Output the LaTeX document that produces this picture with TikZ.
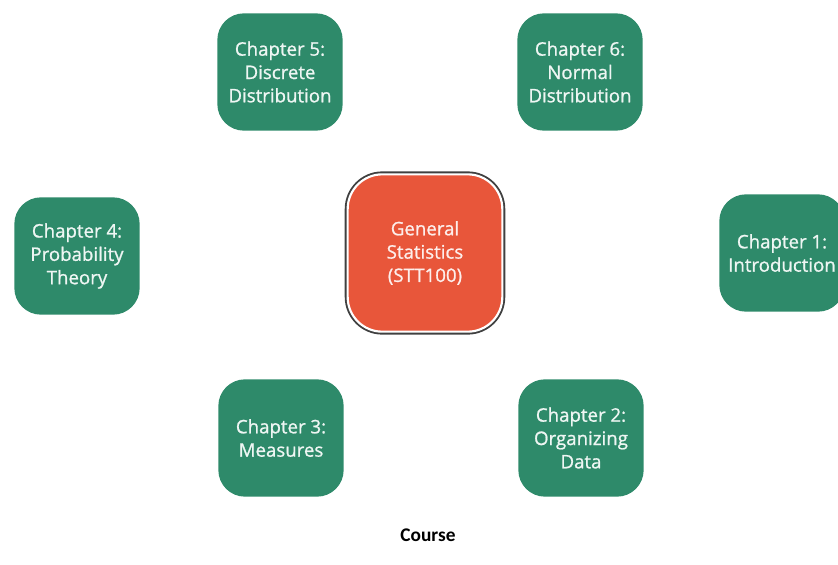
\documentclass[tikz,border=0pt]{standalone}
\usepackage{fontspec}
\setmainfont{Open Sans}
\newfontfamily\boxfont[FakeBold=1]{Open Sans}
\newfontfamily\captionfont{Carlito}
\usepackage{tikz}
\usetikzlibrary{positioning}

\definecolor{chaptergreen}{RGB}{46,138,106}
\definecolor{courseorange}{RGB}{232,86,58}

\begin{document}
\begin{tikzpicture}[
        x=0.75pt, y=-0.75pt,
        chapter/.style={rectangle, fill=chaptergreen, rounded corners=20pt, text=white!92!chaptergreen, align=center, font=\boxfont\fontsize{14}{17.5}\selectfont, minimum width=94pt, minimum height=88pt, inner sep=0pt},
        course/.style={rectangle, fill=courseorange, draw=white, line width=1.6pt, preaction={draw=black!75, line width=4.4pt}, rounded corners=26pt, text=white!90!courseorange, align=center, font=\boxfont\fontsize{14}{17.5}\selectfont, minimum width=116pt, minimum height=118pt}
    ]
    \path[use as bounding box, clip] (0,0) rectangle (838,564);

    \node[course] (stat) at (425,253) {General\\Statistics\\(STT100)};

    \node[chapter] (ch1) at (782,253) {Chapter 1:\\Introduction};
    \node[chapter] (ch2) at (581,438) {Chapter 2:\\Organizing\\Data};
    \node[chapter] (ch3) at (281,438) {Chapter 3:\\Measures};
    \node[chapter] (ch4) at (77,256) {Chapter 4:\\Probability\\Theory};
    \node[chapter] (ch5) at (280,72) {Chapter 5:\\Discrete\\Distribution};
    \node[chapter] (ch6) at (580,72) {Chapter 6:\\Normal\\Distribution};

    \node[font=\captionfont\bfseries\fontsize{14.5}{16}\selectfont] (caption) at (428,535) {Course};
\end{tikzpicture}
\end{document}
